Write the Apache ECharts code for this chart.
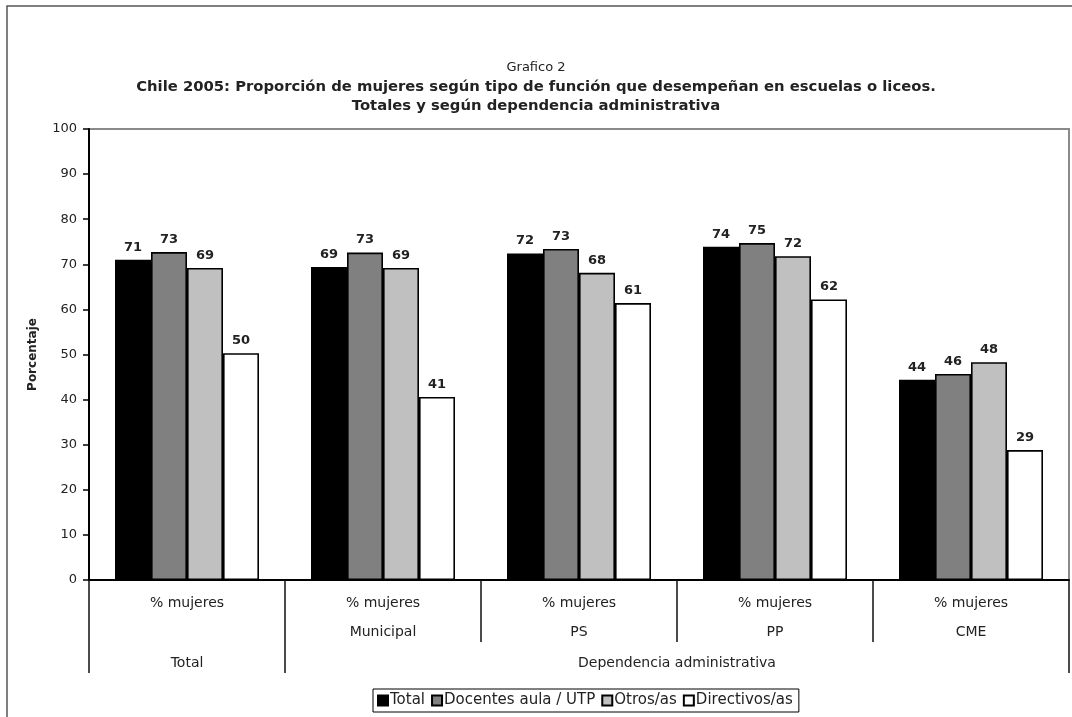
<!DOCTYPE html>
<html>
<head>
<meta charset="utf-8">
<script src="https://cdn.jsdelivr.net/npm/echarts@6/dist/echarts.min.js"></script>
<style>html,body{margin:0;padding:0;background:#fff}#c{width:1072px;height:717px}</style>
</head>
<body>
<div id="c"></div>
<script>
// ---- data ----
var rowLabels = ['% mujeres', '% mujeres', '% mujeres', '% mujeres', '% mujeres'];
var subLabels = ['', 'Municipal', 'PS', 'PP', 'CME'];
var seriesNames = ['Total', 'Docentes aula / UTP', 'Otros/as', 'Directivos/as'];
var totalVals = [71.0, 69.4, 72.4, 73.9, 44.4];
var docentesVals = [72.7, 72.6, 73.4, 74.7, 45.7];
var otrosVals = [69.2, 69.2, 68.1, 71.8, 48.3];
var directivosVals = [50.3, 40.6, 61.4, 62.2, 28.8];
var yTicks = [0, 10, 20, 30, 40, 50, 60, 70, 80, 90, 100];
var groupLabelPos = [0.5, 3];
var groupLabels = ['Total', 'Dependencia administrativa'];
var groupBounds = [0, 1, 5];
var titleLines = ['Grafico 2',
  'Chile 2005: Proporción de mujeres según tipo de función que desempeñan en escuelas o liceos.',
  'Totales y según dependencia administrativa'];

var FONT = '"Liberation Sans", Arial, sans-serif';
var WFONT = '"DejaVu Sans", sans-serif';
var chart = echarts.init(document.getElementById('c'), null, {renderer: 'canvas'});

function mk(name, vals, color) {
  return {
    name: name, type: 'bar', data: vals, barWidth: 36, barGap: '0%',
    itemStyle: {color: color, borderColor: '#000', borderWidth: 1.6},
    label: {show: true, position: 'top', distance: 6, fontFamily: WFONT, fontSize: 13,
      fontWeight: 'bold', color: '#222', formatter: function (p) { return Math.round(p.value); }}
  };
}

chart.setOption({
  animation: false,
  backgroundColor: '#fff',
  textStyle: {fontFamily: FONT},
  title: [
    {text: titleLines[0], left: 'center', top: 56,
      textStyle: {fontFamily: WFONT, fontSize: 13, fontWeight: 'normal', color: '#222'}},
    {text: titleLines[1], left: 'center', top: 75,
      textStyle: {fontFamily: WFONT, fontSize: 14.8, fontWeight: 'bold', color: '#222'}},
    {text: titleLines[2], left: 'center', top: 94,
      textStyle: {fontFamily: WFONT, fontSize: 14.8, fontWeight: 'bold', color: '#222'}}
  ],
  grid: {left: 89, right: 3, top: 129, bottom: 137, show: true, borderColor: '#8a8a8a', borderWidth: 2, backgroundColor: '#fff'},
  legend: {
    data: seriesNames, left: 373, top: 689, orient: 'horizontal',
    borderColor: '#000', borderWidth: 1, borderRadius: 0, padding: [4, 6, 4, 4],
    itemWidth: 10, itemHeight: 10, itemGap: 6, icon: 'rect',
    textStyle: {fontFamily: WFONT, fontSize: 15, color: '#222', padding: [0, 0, 0, -3]}
  },
  xAxis: [
    {type: 'category', data: rowLabels, position: 'bottom',
      axisLine: {show: true, lineStyle: {color: '#000', width: 2}},
      axisTick: {show: true, alignWithLabel: false, interval: 0, length: 62, lineStyle: {color: '#111', width: 1.5}},
      axisLabel: {interval: 0, margin: 16, fontFamily: WFONT, fontSize: 14, color: '#222'}},
    {type: 'category', data: subLabels, position: 'bottom',
      axisLine: {show: false}, axisTick: {show: false},
      axisLabel: {interval: 0, margin: 45, fontFamily: WFONT, fontSize: 14, color: '#222'}},
    {type: 'value', min: 0, max: 5, position: 'bottom', splitLine: {show: false},
      axisLine: {show: false},
      axisTick: {show: true, customValues: groupBounds, length: 93, lineStyle: {color: '#111', width: 1.5}},
      axisLabel: {customValues: groupLabelPos, margin: 76, fontFamily: WFONT, fontSize: 14, color: '#222',
        formatter: function (v) { return groupLabels[groupLabelPos.indexOf(v)]; }}}
  ],
  yAxis: {
    type: 'value', min: 0, max: 100, interval: 10,
    name: 'Porcentaje', nameLocation: 'middle', nameGap: 50, nameRotate: 90,
    nameTextStyle: {fontFamily: WFONT, fontSize: 12, fontWeight: 'bold', color: '#222'},
    axisLine: {show: true, lineStyle: {color: '#000', width: 2}},
    axisTick: {show: true, length: 6, lineStyle: {color: '#000', width: 1.5}},
    axisLabel: {margin: 12, fontFamily: WFONT, fontSize: 13, color: '#222',
      customValues: yTicks},
    splitLine: {show: false}
  },
  series: [
    mk(seriesNames[0], totalVals, '#000'),
    mk(seriesNames[1], docentesVals, '#808080'),
    mk(seriesNames[2], otrosVals, '#c0c0c0'),
    mk(seriesNames[3], directivosVals, '#ffffff')
  ],
  graphic: [
    {type: 'rect', silent: true, z: 100, shape: {x: 7, y: 6, width: 1200, height: 900},
      style: {fill: null, stroke: '#555', lineWidth: 1.5}}
  ]
});
</script>
</body>
</html>
